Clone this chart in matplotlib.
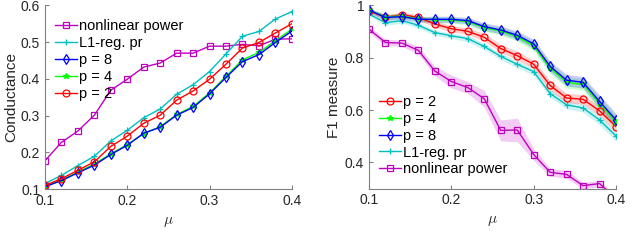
import numpy as np
import matplotlib.pyplot as plt

plt.rcParams['font.family'] = ['Liberation Sans', 'DejaVu Sans']
plt.rcParams['mathtext.fontset'] = 'cm'

mu = [0.10, 0.12, 0.14, 0.16, 0.18, 0.20, 0.22, 0.24, 0.26, 0.28, 0.30, 0.32, 0.34, 0.36, 0.38, 0.40]

# conductance
cond_nonlin = [0.177, 0.227, 0.258, 0.301, 0.369, 0.399, 0.432, 0.443, 0.470, 0.470, 0.489, 0.489, 0.494, 0.490, 0.508, 0.509]
cond_l1 = [0.115, 0.137, 0.164, 0.189, 0.231, 0.260, 0.294, 0.318, 0.358, 0.384, 0.420, 0.468, 0.516, 0.529, 0.563, 0.583]
cond_p8 = [0.106, 0.123, 0.144, 0.165, 0.194, 0.219, 0.252, 0.268, 0.301, 0.322, 0.359, 0.404, 0.447, 0.466, 0.499, 0.530]
cond_p4 = [0.107, 0.124, 0.146, 0.168, 0.196, 0.221, 0.251, 0.270, 0.303, 0.325, 0.362, 0.407, 0.452, 0.472, 0.504, 0.535]
cond_p2 = [0.110, 0.128, 0.151, 0.174, 0.216, 0.244, 0.279, 0.301, 0.342, 0.367, 0.399, 0.440, 0.484, 0.499, 0.525, 0.550]

# F1 measure (mean and spread)
f1_p2 = [0.980, 0.954, 0.965, 0.954, 0.929, 0.911, 0.901, 0.878, 0.835, 0.808, 0.775, 0.694, 0.646, 0.641, 0.597, 0.537]
f1_p4 = [0.982, 0.956, 0.960, 0.948, 0.945, 0.944, 0.938, 0.915, 0.902, 0.880, 0.845, 0.760, 0.706, 0.698, 0.625, 0.555]
f1_p8 = [0.982, 0.954, 0.957, 0.947, 0.947, 0.947, 0.942, 0.919, 0.906, 0.886, 0.853, 0.767, 0.714, 0.706, 0.633, 0.562]
f1_l1 = [0.967, 0.934, 0.942, 0.924, 0.896, 0.884, 0.873, 0.843, 0.805, 0.775, 0.747, 0.663, 0.620, 0.608, 0.562, 0.501]
f1_nonlin = [0.909, 0.858, 0.856, 0.828, 0.749, 0.709, 0.686, 0.643, 0.522, 0.524, 0.430, 0.362, 0.354, 0.311, 0.319, 0.261]

err_p2 = [0.008, 0.010, 0.010, 0.010, 0.012, 0.012, 0.012, 0.014, 0.015, 0.016, 0.016, 0.018, 0.018, 0.018, 0.018, 0.018]
err_p4 = [0.008, 0.010, 0.010, 0.010, 0.012, 0.012, 0.012, 0.014, 0.015, 0.016, 0.018, 0.020, 0.022, 0.022, 0.025, 0.025]
err_p8 = [0.008, 0.010, 0.010, 0.010, 0.012, 0.012, 0.012, 0.014, 0.015, 0.016, 0.018, 0.020, 0.022, 0.022, 0.025, 0.025]
err_l1 = [0.008, 0.010, 0.010, 0.010, 0.010, 0.010, 0.012, 0.012, 0.012, 0.014, 0.014, 0.015, 0.015, 0.016, 0.018, 0.020]
err_nonlin = [0.012, 0.012, 0.012, 0.015, 0.018, 0.025, 0.022, 0.032, 0.040, 0.045, 0.022, 0.015, 0.015, 0.012, 0.012, 0.012]

GRAY = '#262626'
AX = '#808080'


def style_axes(ax):
    for s in ['top', 'right']:
        ax.spines[s].set_visible(False)
    for s in ['left', 'bottom']:
        ax.spines[s].set_color(AX)
        ax.spines[s].set_linewidth(0.8)
    ax.tick_params(direction='in', length=3, width=0.8, color=AX,
                   labelcolor=GRAY, labelsize=10)
    ax.set_xlim(0.1, 0.4)
    ax.set_xticks([0.1, 0.2, 0.3, 0.4])
    ax.set_xticklabels(['0.1', '0.2', '0.3', '0.4'])
    ax.set_xlabel(r'$\mu$', fontsize=11, color=GRAY, labelpad=5)


fig = plt.figure(figsize=(6.4, 2.46), dpi=100)
ax1 = fig.add_axes([0.0703, 0.2317, 0.3857, 0.7463])
ax2 = fig.add_axes([0.5766, 0.2337, 0.3859, 0.7443])

kw = dict(lw=1.0, ms=5, mew=0.9)

# left: conductance
h_nl, = ax1.plot(mu, cond_nonlin, color='m', marker='s', mfc='none', **kw)
h_l1, = ax1.plot(mu, cond_l1, color='c', marker='+', **kw)
h_p4, = ax1.plot(mu, cond_p4, color='#00ff00', marker='*', ms=4, lw=1.0)
h_p8, = ax1.plot(mu, cond_p8, color='b', marker='d', mfc='none', **kw)
h_p2, = ax1.plot(mu, cond_p2, color='r', marker='o', mfc='none', **kw)
style_axes(ax1)
ax1.set_ylim(0.1, 0.6)
ax1.set_yticks([0.1, 0.2, 0.3, 0.4, 0.5, 0.6])
ax1.set_yticklabels(['0.1', '0.2', '0.3', '0.4', '0.5', '0.6'])
ax1.set_ylabel('Conductance', fontsize=11, color=GRAY, labelpad=2)

labels1 = ['nonlinear power', 'L1-reg. pr', 'p = 8', 'p = 4', 'p = 2']
ax1.legend([h_nl, h_l1, h_p8, h_p4, h_p2], labels1, loc='upper left', bbox_to_anchor=(0.0, 0.98),
           frameon=False, fontsize=10.5, handlelength=1.5, handletextpad=0.1,
           labelspacing=0.2, borderaxespad=0.3)

# right: F1 measure with shaded spread
series = [
    (f1_nonlin, err_nonlin, 'm', 's', 'nonlinear power'),
    (f1_l1, err_l1, 'c', '+', 'L1-reg. pr'),
    (f1_p2, err_p2, 'r', 'o', 'p = 2'),
    (f1_p4, err_p4, '#00ff00', '*', 'p = 4'),
    (f1_p8, err_p8, 'b', 'd', 'p = 8'),
]
handles = {}
for y, e, c, m, lab in series:
    y = np.array(y)
    e = np.array(e)
    ax2.fill_between(mu, y - e, y + e, color=c, alpha=0.2, lw=0)
    if m == '*':
        ln, = ax2.plot(mu, y, color=c, marker=m, ms=4, lw=1.0)
    elif m == '+':
        ln, = ax2.plot(mu, y, color=c, marker=m, **kw)
    else:
        ln, = ax2.plot(mu, y, color=c, marker=m, mfc='none', **kw)
    handles[lab] = ln
style_axes(ax2)
ax2.set_ylim(0.3, 1.0)
ax2.set_yticks([0.4, 0.6, 0.8, 1.0])
ax2.set_yticklabels(['0.4', '0.6', '0.8', '1'])
ax2.set_ylabel('F1 measure', fontsize=11, color=GRAY, labelpad=3)

labels2 = ['p = 2', 'p = 4', 'p = 8', 'L1-reg. pr', 'nonlinear power']
ax2.legend([handles[k] for k in labels2], labels2, loc='lower left', bbox_to_anchor=(0.0, 0.01),
           frameon=False, fontsize=10.5, handlelength=1.5, handletextpad=0.1,
           labelspacing=0.2, borderaxespad=0.3)

fig.savefig('out.png', dpi=100)
